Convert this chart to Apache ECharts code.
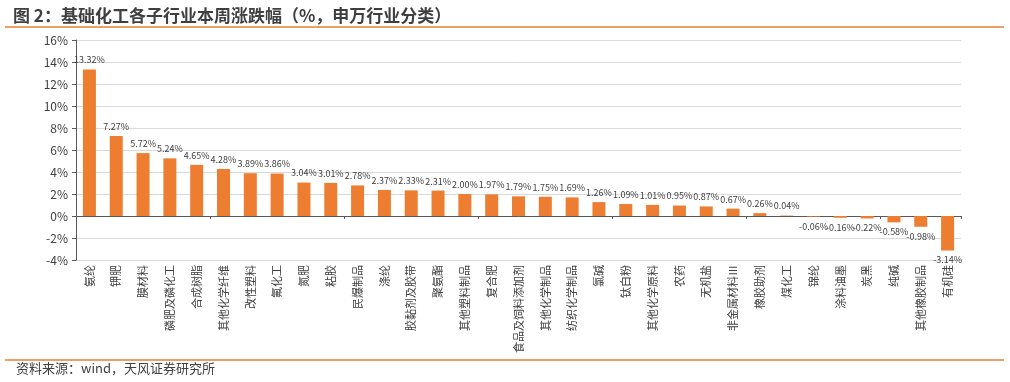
<!DOCTYPE html>
<html>
<head>
<meta charset="utf-8">
<script src="https://cdn.jsdelivr.net/npm/echarts@6/dist/echarts.min.js"></script>
<style>
html,body{margin:0;padding:0;background:#fff;}
#c{width:1010px;height:382px;}
</style>
</head>
<body>
<div id="c"></div>
<script>
const titleText = '图 2：基础化工各子行业本周涨跌幅（%，申万行业分类）';
const sourceText = '资料来源：wind，天风证券研究所';
const categories = ['氨纶','钾肥','膜材料','磷肥及磷化工','合成树脂','其他化学纤维','改性塑料','氟化工','氮肥','粘胶','民爆制品','涤纶','胶黏剂及胶带','聚氨酯','其他塑料制品','复合肥','食品及饲料添加剂','其他化学制品','纺织化学制品','氯碱','钛白粉','其他化学原料','农药','无机盐','非金属材料Ⅲ','橡胶助剂','煤化工','锦纶','涂料油墨','炭黑','纯碱','其他橡胶制品','有机硅'];
const values = [13.32,7.27,5.72,5.24,4.65,4.28,3.89,3.86,3.04,3.01,2.78,2.37,2.33,2.31,2.00,1.97,1.79,1.75,1.69,1.26,1.09,1.01,0.95,0.87,0.67,0.26,0.04,-0.06,-0.16,-0.22,-0.58,-0.98,-3.14];
const yMin = -4, yMax = 16, yStep = 2;

const font = '"Noto Sans CJK SC", "Noto Sans", sans-serif';
const chart = echarts.init(document.getElementById('c'), null, {renderer:'canvas'});
chart.setOption({
  animation:false,
  textStyle:{fontFamily:font},
  title:{
    text:titleText, left:8, top:2,
    textStyle:{fontSize:17, fontWeight:'bold', color:'#3f3f3f', fontFamily:font}
  },
  graphic:[
    {type:'line', shape:{x1:5,y1:27,x2:1004,y2:27}, style:{stroke:'#ED7D31', lineWidth:1.5}},
    {type:'line', shape:{x1:5,y1:360,x2:1004,y2:360}, style:{stroke:'#ED7D31', lineWidth:1.5}},
    {type:'text', left:16, top:362, style:{text:sourceText, fontSize:13, fill:'#404040', fontFamily:font}}
  ],
  grid:{left:76, right:49, top:40, bottom:122, containLabel:false},
  xAxis:[
    {type:'category', data:categories, position:'bottom',
     axisLine:{show:false, onZero:false}, axisTick:{show:false},
     axisLabel:{rotate:90, fontSize:11, color:'#404040', margin:5, interval:0, fontFamily:font}},
    {type:'category', data:categories, position:'bottom',
     axisLine:{show:true, onZero:true, lineStyle:{color:'#595959', width:1}},
     axisTick:{show:true, length:3, inside:false, lineStyle:{color:'#595959'}},
     axisLabel:{show:false}}
  ],
  yAxis:{type:'value', min:yMin, max:yMax, interval:yStep,
    axisLine:{show:true, lineStyle:{color:'#595959'}},
    axisTick:{show:true, length:4, lineStyle:{color:'#595959'}},
    splitLine:{lineStyle:{color:'#d9d9d9'}},
    axisLabel:{formatter:'{value}%', fontSize:12, color:'#404040', margin:8, fontFamily:font}},
  series:[{
    type:'bar', xAxisIndex:0, barWidth:13,
    data:values.map(v=>({value:v, label:{position: v<0?'bottom':'top'}})),
    itemStyle:{color:'#ED7D31'},
    label:{show:true, fontSize:9, color:'#404040', fontFamily:font,
      formatter:p=>p.value.toFixed(2)+'%'}
  }]
});
</script>
</body>
</html>
